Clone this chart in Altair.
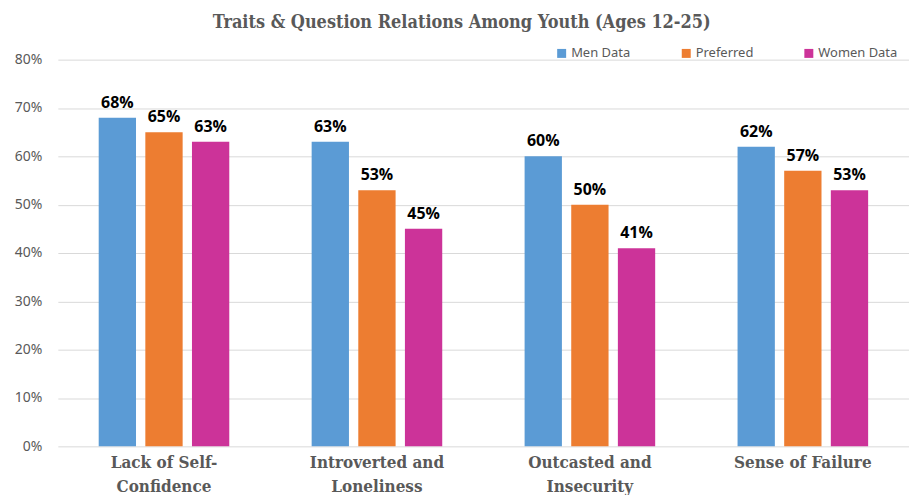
import altair as alt
import pandas as pd

categories = ["Lack of Self-\nConfidence", "Introverted and\nLoneliness", "Outcasted and\nInsecurity", "Sense of Failure"]
series = ["Men Data", "Preferred", "Women Data"]
men = [0.68, 0.63, 0.60, 0.62]
preferred = [0.65, 0.53, 0.50, 0.57]
women = [0.63, 0.45, 0.41, 0.53]
colors = ["#5B9BD5", "#ED7D31", "#CC3399"]
y_ticks = [0.0, 0.1, 0.2, 0.3, 0.4, 0.5, 0.6, 0.7, 0.8]

rows = []
for s, vals in zip(series, [men, preferred, women]):
    for c, v in zip(categories, vals):
        rows.append({"category": c, "series": s, "value": v})
df = pd.DataFrame(rows)

x = alt.X("category:N", sort=categories, title=None,
          scale=alt.Scale(paddingInner=0.343, paddingOuter=0.17),
          axis=alt.Axis(labelAngle=0, ticks=False, domain=False,
                        labelExpr="split(datum.label, '\\n')",
                        labelFont="DejaVu Serif Condensed, DejaVu Serif", labelFontWeight="bold",
                        labelFontSize=17, labelColor="#595959",
                        labelLineHeight=24, labelPadding=8, labelLimit=400))
xo = alt.XOffset("series:N", sort=series,
                 scale=alt.Scale(paddingInner=0.2, paddingOuter=0.1))
y = alt.Y("value:Q", title=None,
          scale=alt.Scale(domain=[0, 0.8]),
          axis=alt.Axis(format=".0%", values=y_ticks,
                        ticks=False, domain=False, gridColor="#D9D9D9",
                        labelFont="Noto Sans", labelFontSize=14,
                        labelColor="#595959", labelPadding=16))

base = alt.Chart(df).encode(x=x, xOffset=xo, y=y)

bars = base.mark_bar().encode(
    color=alt.Color("series:N", sort=series,
                    scale=alt.Scale(domain=series, range=colors),
                    legend=alt.Legend(title=None, orient="none", direction="horizontal",
                                      legendX=499, legendY=-13,
                                      symbolType="square", symbolSize=81,
                                      symbolStrokeWidth=0,
                                      labelFont="Noto Sans", labelFontSize=13,
                                      labelColor="#595959", columnPadding=49,
                                      labelOffset=3))
)

labels = base.mark_text(baseline="alphabetic", dy=-10, font="Open Sans",
                        fontWeight="bold", fontSize=16, color="#000000").encode(
    text=alt.Text("value:Q", format=".0%")
)

chart = (bars + labels).properties(
    width=854, height=388,
    title=alt.TitleParams("Traits & Question Relations Among Youth (Ages 12-25)",
                          font="DejaVu Serif Condensed, DejaVu Serif", fontWeight="bold", fontSize=18,
                          color="#595959", anchor="middle", frame="bounds",
                          offset=15),
    padding={"top": 5, "left": 6, "right": 0, "bottom": 0}
).configure_view(stroke=None)

chart.save("out.html", embed_options={"renderer": "svg", "actions": False})
